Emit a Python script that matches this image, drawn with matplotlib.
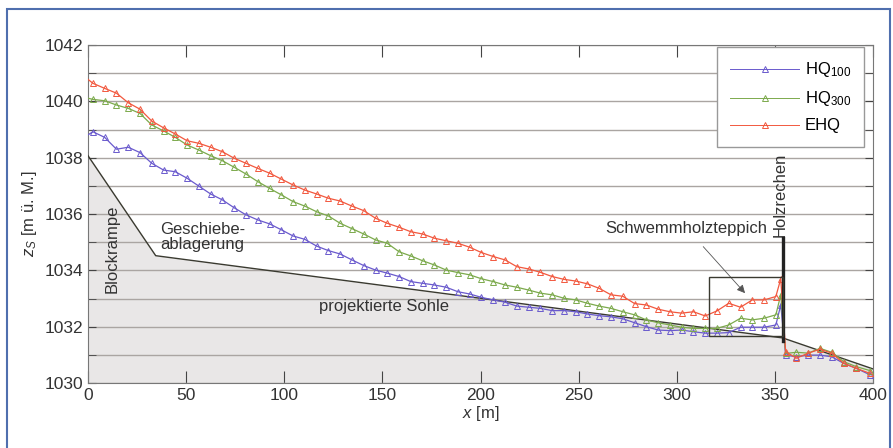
import numpy as np
import matplotlib
matplotlib.use('Agg')
import matplotlib.pyplot as plt
from matplotlib.lines import Line2D
from matplotlib.patches import Rectangle

plt.rcParams['font.family'] = ['Liberation Sans', 'DejaVu Sans']
plt.rcParams['mathtext.fontset'] = 'custom'
plt.rcParams['mathtext.rm'] = 'Liberation Sans'
plt.rcParams['mathtext.it'] = 'Liberation Sans:italic'

# stations along the channel [m]
x_pts = [0.0] + list(np.arange(2.5, 351, 6.0)) + [353.0, 355.5, 361.0, 367.0, 373.0, 379.0, 385.0, 391.5, 398.5]

# water levels [m ü. M.]
hq100 = [1038.81,
         1038.92, 1038.72, 1038.30, 1038.37, 1038.18, 1037.80, 1037.56, 1037.50, 1037.27, 1036.99,
         1036.71, 1036.50, 1036.22, 1035.97, 1035.79, 1035.65, 1035.44, 1035.22, 1035.10, 1034.86,
         1034.70, 1034.58, 1034.37, 1034.17, 1034.01, 1033.90, 1033.78, 1033.60, 1033.54, 1033.48,
         1033.40, 1033.24, 1033.16, 1033.04, 1032.95, 1032.87, 1032.73, 1032.69, 1032.65, 1032.57,
         1032.57, 1032.53, 1032.45, 1032.39, 1032.35, 1032.28, 1032.14, 1032.00, 1031.88, 1031.86,
         1031.88, 1031.82, 1031.77, 1031.77, 1031.79, 1031.98, 1031.98, 1031.98, 1032.06,
         1032.77, 1030.99, 1030.93, 1030.99, 1030.99, 1030.93, 1030.70, 1030.52, 1030.29]
hq300 = [1040.11,
         1040.07, 1040.02, 1039.87, 1039.75, 1039.57, 1039.16, 1038.95, 1038.72, 1038.45, 1038.27,
         1038.07, 1037.89, 1037.66, 1037.42, 1037.15, 1036.91, 1036.68, 1036.44, 1036.28, 1036.08,
         1035.93, 1035.67, 1035.48, 1035.29, 1035.08, 1034.96, 1034.66, 1034.51, 1034.34, 1034.19,
         1034.01, 1033.92, 1033.84, 1033.70, 1033.60, 1033.48, 1033.40, 1033.30, 1033.19, 1033.13,
         1033.01, 1032.95, 1032.83, 1032.73, 1032.65, 1032.53, 1032.42, 1032.24, 1032.14, 1032.06,
         1031.98, 1031.94, 1031.94, 1031.94, 1032.06, 1032.30, 1032.24, 1032.30, 1032.42,
         1033.13, 1031.05, 1031.09, 1031.06, 1031.23, 1031.09, 1030.76, 1030.58, 1030.44]
ehq = [1040.78,
       1040.64, 1040.46, 1040.29, 1039.95, 1039.72, 1039.30, 1039.06, 1038.84, 1038.60, 1038.51,
       1038.37, 1038.21, 1037.98, 1037.80, 1037.62, 1037.45, 1037.24, 1037.03, 1036.85, 1036.71,
       1036.56, 1036.46, 1036.28, 1036.12, 1035.85, 1035.67, 1035.53, 1035.37, 1035.29, 1035.14,
       1035.05, 1034.96, 1034.82, 1034.63, 1034.49, 1034.37, 1034.13, 1034.05, 1033.93, 1033.78,
       1033.68, 1033.62, 1033.52, 1033.36, 1033.13, 1033.08, 1032.82, 1032.77, 1032.62, 1032.53,
       1032.48, 1032.53, 1032.38, 1032.56, 1032.83, 1032.69, 1032.95, 1032.95, 1033.07,
       1033.70, 1031.11, 1030.88, 1031.06, 1031.20, 1031.06, 1030.70, 1030.52, 1030.34]

# projected bed
sohle_x = [0, 34.5, 354, 400]
sohle_z = [1038.07, 1034.52, 1031.6, 1030.5]

# rake and debris box
rechen_x = 354
rechen_z = [1031.5, 1035.15]
box_x = [316.6, 354]
box_z = [1031.67, 1033.75]

series = [('HQ$_{100}$', hq100, '#6a5acd'),
          ('HQ$_{300}$', hq300, '#7caa4c'),
          ('EHQ', ehq, '#f2583e')]

fig = plt.figure(figsize=(8.93, 4.48), dpi=100)
fig.patches.append(Rectangle((7 / 893, -0.05), 883 / 893, 1.05 - 9 / 448, transform=fig.transFigure,
                             fill=False, edgecolor='#4f6fae', lw=1.5))
ax = fig.add_axes([88 / 893, 1 - 383 / 448, 785 / 893, 338 / 448])

ax.fill_between(sohle_x, sohle_z, 1030, color='#e9e7e7', zorder=0.2, lw=0)
ax.plot(sohle_x, sohle_z, color='#3a3a30', lw=1.0, zorder=3)

handles = []
for name, vals, col in series:
    ax.plot(x_pts, vals, color=col, lw=0.9, zorder=4)
    ax.plot(x_pts[1:], vals[1:], ls='none', marker='^', ms=4, mfc='none', mec=col, mew=0.7, zorder=4)
    handles.append(Line2D([], [], color=col, lw=0.7, marker='^', ms=4, mfc='none', mec=col, mew=0.7))

ax.plot([rechen_x, rechen_x], rechen_z, color='#222222', lw=2.4, zorder=5)
ax.add_patch(Rectangle((box_x[0], box_z[0]), box_x[1] - box_x[0], box_z[1] - box_z[0],
                       fill=False, edgecolor='#3a3a30', lw=1.0, zorder=5))

fs = 12
ax.text(12.2, 1033.2, 'Blockrampe', rotation=90, ha='center', va='bottom', fontsize=fs, color='#333333')
ax.text(37, 1035.2, 'Geschiebe-\nablagerung', ha='left', va='center', fontsize=fs, color='#333333',
        linespacing=1.0)
ax.text(117.7, 1032.7, 'projektierte Sohle', ha='left', va='center', fontsize=fs, color='#333333')
ax.annotate('Schwemmholzteppich', xy=(334.8, 1033.19), xytext=(305, 1035.5), ha='center', va='center',
            fontsize=fs, color='#333333',
            arrowprops=dict(arrowstyle='-|>', color='#555555', lw=0.6, mutation_scale=12,
                            shrinkA=8, shrinkB=0))
ax.text(352.6, 1035.2, 'Holzrechen', rotation=90, ha='center', va='bottom', fontsize=fs, color='#333333')

ax.set_xlim(0, 400)
ax.set_ylim(1030, 1042)
ax.set_xticks(np.arange(0, 401, 50))
ax.set_yticks(np.arange(1030, 1043, 2))
ax.set_yticks(np.arange(1031, 1042, 2), minor=True)
ax.tick_params(axis='both', which='both', direction='in', top=True, right=True,
               labelsize=12.5, colors='#444444', labelcolor='#333333')
ax.tick_params(axis='x', length=8.5)
ax.tick_params(axis='y', which='both', length=6)
ax.set_axisbelow(True)
ax.yaxis.grid(True, which='both', color='#aaa5a2', lw=1.0)
for sp in ax.spines.values():
    sp.set_color('#777777')

ax.set_xlabel('$x$ [m]', fontsize=fs, color='#333333', labelpad=1)
ax.set_ylabel('$z_S$ [m ü. M.]', fontsize=fs, color='#333333', labelpad=4)

ax.legend(handles, [s[0] for s in series], loc='upper right', bbox_to_anchor=(0.9885, 0.994),
          borderaxespad=0, fontsize=12, handlelength=4.1, handletextpad=0.35, numpoints=1,
          fancybox=False, framealpha=1, edgecolor='#999999', borderpad=0.8, labelspacing=0.6)

plt.savefig('out.png', dpi=100)
